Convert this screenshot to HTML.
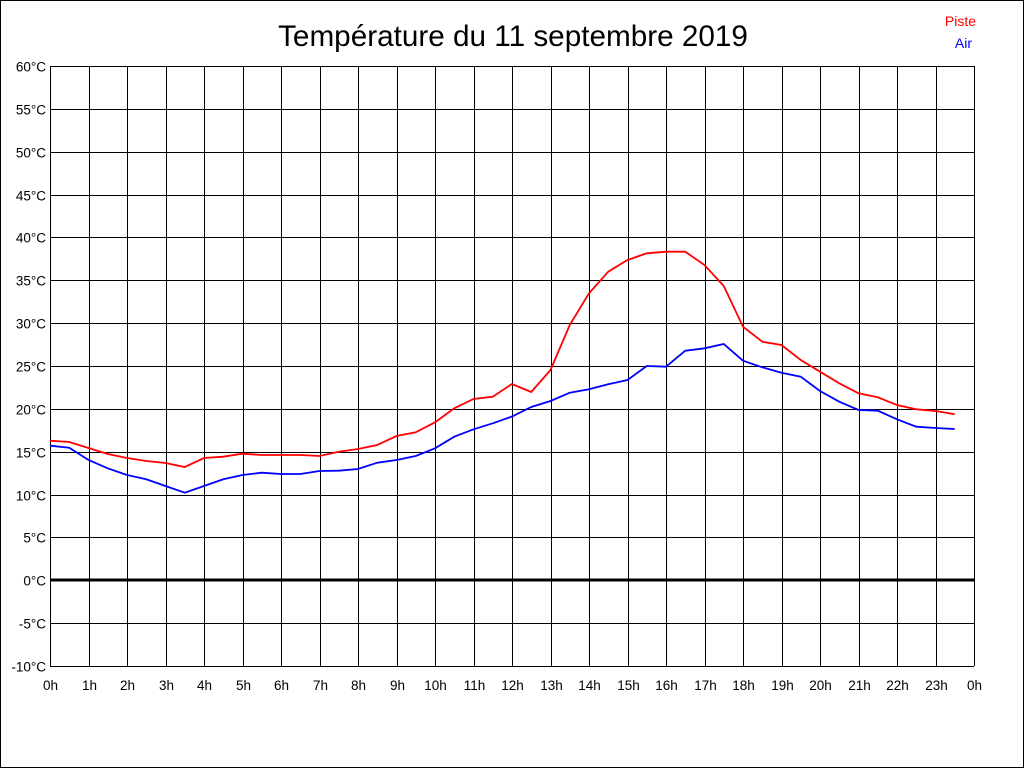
<!DOCTYPE html>
<html><head><meta charset="utf-8"><style>
html,body{margin:0;padding:0;background:#fff}
svg{display:block}
text{font-family:"Liberation Sans",Arial,sans-serif}
</style></head><body>
<svg width="1024" height="768" viewBox="0 0 1024 768" xmlns="http://www.w3.org/2000/svg">
<rect x="0.5" y="0.5" width="1023" height="767" fill="#fff" stroke="#000"/>
<text x="513" y="46" font-size="29.7" text-anchor="middle">Température du 11 septembre 2019</text>
<text x="976" y="26" font-size="14" fill="#f00" text-anchor="end">Piste</text>
<text x="972" y="48" font-size="14" fill="#00f" text-anchor="end">Air</text>
<g id="grid" stroke="#000" stroke-width="1" shape-rendering="crispEdges"></g>
<g id="lab" font-size="13.5" fill="#000"></g>
<line x1="50" y1="580" x2="974" y2="580" stroke="#000" stroke-width="3"/>
<polyline fill="none" stroke="#f00" stroke-width="1.8" points="50,440.7 69.25,442 88.5,448 107.75,454 127,458 146.25,461 165.5,463 184.75,467 204,458 223.25,456.7 242.5,453.7 261.75,455 281,455 300.25,455 319.5,456 338.75,451.7 358,449 377.25,445 396.5,436 415.75,432.3 435,422.3 454.25,408.3 473.5,399 492.75,396.7 512,384 531.25,392 550.5,370 569.75,325 589,293.3 608.25,271.7 627.5,260 646.75,253.3 666,251.7 685.25,251.7 704.5,265 723.75,286 743,326.7 762.25,341.7 781.5,345 800.75,360 820,371.7 839.25,383.3 858.5,393.3 877.75,397.3 897,405 916.25,409.3 935.5,411 954.75,414.3"/>
<polyline fill="none" stroke="#00f" stroke-width="1.8" points="50,445.7 69.25,447.7 88.5,460 107.75,468.3 127,475 146.25,479.3 165.5,486 184.75,492.7 204,486 223.25,479.3 242.5,475 261.75,472.7 281,474 300.25,474 319.5,471 338.75,470.7 358,469 377.25,462.7 396.5,460 415.75,456 435,448.3 454.25,436.7 473.5,429.3 492.75,423.3 512,416.5 531.25,407 550.5,401 569.75,392.7 589,389.3 608.25,384.3 627.5,380 646.75,366 666,366.7 685.25,350.7 704.5,348.3 723.75,344 743,360.7 762.25,367.3 781.5,372.7 800.75,376.7 820,391 839.25,401.7 858.5,410 877.75,410.7 897,419.3 916.25,426.7 935.5,428 954.75,429"/>
<script>
var g=document.getElementById('grid'),l=document.getElementById('lab'),ns='http://www.w3.org/2000/svg';
function ln(a,b,c,d){var e=document.createElementNS(ns,'line');e.setAttribute('x1',a);e.setAttribute('y1',b);e.setAttribute('x2',c);e.setAttribute('y2',d);g.appendChild(e);}
function tx(x,y,s,an){var e=document.createElementNS(ns,'text');e.setAttribute('x',x);e.setAttribute('y',y);e.setAttribute('text-anchor',an);e.textContent=s;l.appendChild(e);}
for(var i=0;i<=14;i++){var y=Math.round(66+i*600/14)+0.5;ln(50,y,974,y);tx(46,y+5,(60-5*i)+'°C','end');}
for(var h=0;h<=24;h++){var x=Math.round(50+h*38.5)+0.5;ln(x,66,x,666);tx(x,690,(h%24)+'h','middle');}
</script>
</svg>
</body></html>
